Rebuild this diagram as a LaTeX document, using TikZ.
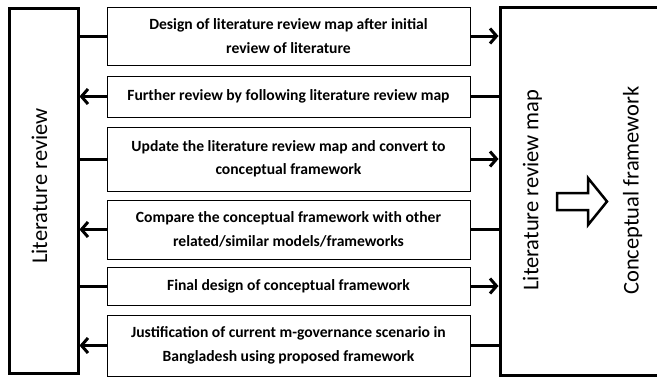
\documentclass[tikz,border=0pt]{standalone}
\usepackage{fontspec}
\setmainfont{Carlito}
\usetikzlibrary{positioning,arrows.meta,shadows}
\tikzset{
  stage/.style = {shape=rectangle, draw, line width=0.9pt, fill=white,
                  align=center, minimum width=363pt, inner sep=0pt,
                  font=\bfseries\fontsize{15.6}{23.5}\selectfont,
                  drop shadow={opacity=0.25, shadow xshift=1.2pt, shadow yshift=-1.2pt}},
  side/.style  = {shape=rectangle, draw, line width=3pt, fill=white},
  vtext/.style = {rotate=90, inner sep=0pt, font=\fontsize{22.5}{26}\selectfont},
  flow/.style  = {line width=3pt}
}
\begin{document}
\begin{tikzpicture}[x=1pt,y=-1pt,>={Straight Barb[length=6.5pt,width=15pt]}]
\useasboundingbox (0,0) rectangle (657,378);
% outer boxes
\node [side, minimum width=69pt, minimum height=365pt] (review) at (43.5,191) {};
\node [side, minimum width=190pt, minimum height=368pt] (mapbox) at (595,191) {};
\node [vtext] (reviewtxt) at (39.5,186) {Literature review};
\node [vtext] (maptxt) at (532.5,190) {Literature review map};
\node [vtext] (cftxt) at (632.5,190.5) {Conceptual framework};
% steps
\node [stage, minimum height=58pt] (design) at (288.5,36)
  {Design of literature review map after initial\\review of literature};
\node [stage, minimum height=41pt] (further) at (288.5,96.5)
  {Further review by following literature review map};
\node [stage, minimum height=64pt] (update) at (288.5,159)
  {Update the literature review map and convert to\\conceptual framework};
\node [stage, minimum height=59pt] (compare) at (288.5,229.5)
  {Compare the conceptual framework with other\\related/similar models/frameworks};
\node [stage, minimum height=38pt] (final) at (288.5,286)
  {Final design of conceptual framework};
\node [stage, minimum height=61pt] (justify) at (288.5,345.5)
  {Justification of current m-governance scenario in\\Bangladesh using proposed framework};
% links
\draw [flow] (review.east |- design.west) -- (design.west);
\draw [flow,->] (design.east) -- (mapbox.west |- design.east);
\draw [flow,->] (further.west) -- (review.east |- further.west);
\draw [flow] (further.east) -- (mapbox.west |- further.east);
\draw [flow] (review.east |- update.west) -- (update.west);
\draw [flow,->] (update.east) -- (mapbox.west |- update.east);
\draw [flow,->] (compare.west) -- (review.east |- compare.west);
\draw [flow] (compare.east) -- (mapbox.west |- compare.east);
\draw [flow] (review.east |- final.west) -- (final.west);
\draw [flow,->] (final.east) -- (mapbox.west |- final.east);
\draw [flow,->] (justify.west) -- (review.east |- justify.west);
\draw [flow] (justify.east) -- (mapbox.west |- justify.east);
% hollow arrow
\draw [line width=2.5pt, line join=miter, fill=white]
  (557,193) -- (588,193) -- (588,178) -- (607,201.5) -- (588,225) -- (588,210) -- (557,210) -- cycle;
\end{tikzpicture}
\end{document}
